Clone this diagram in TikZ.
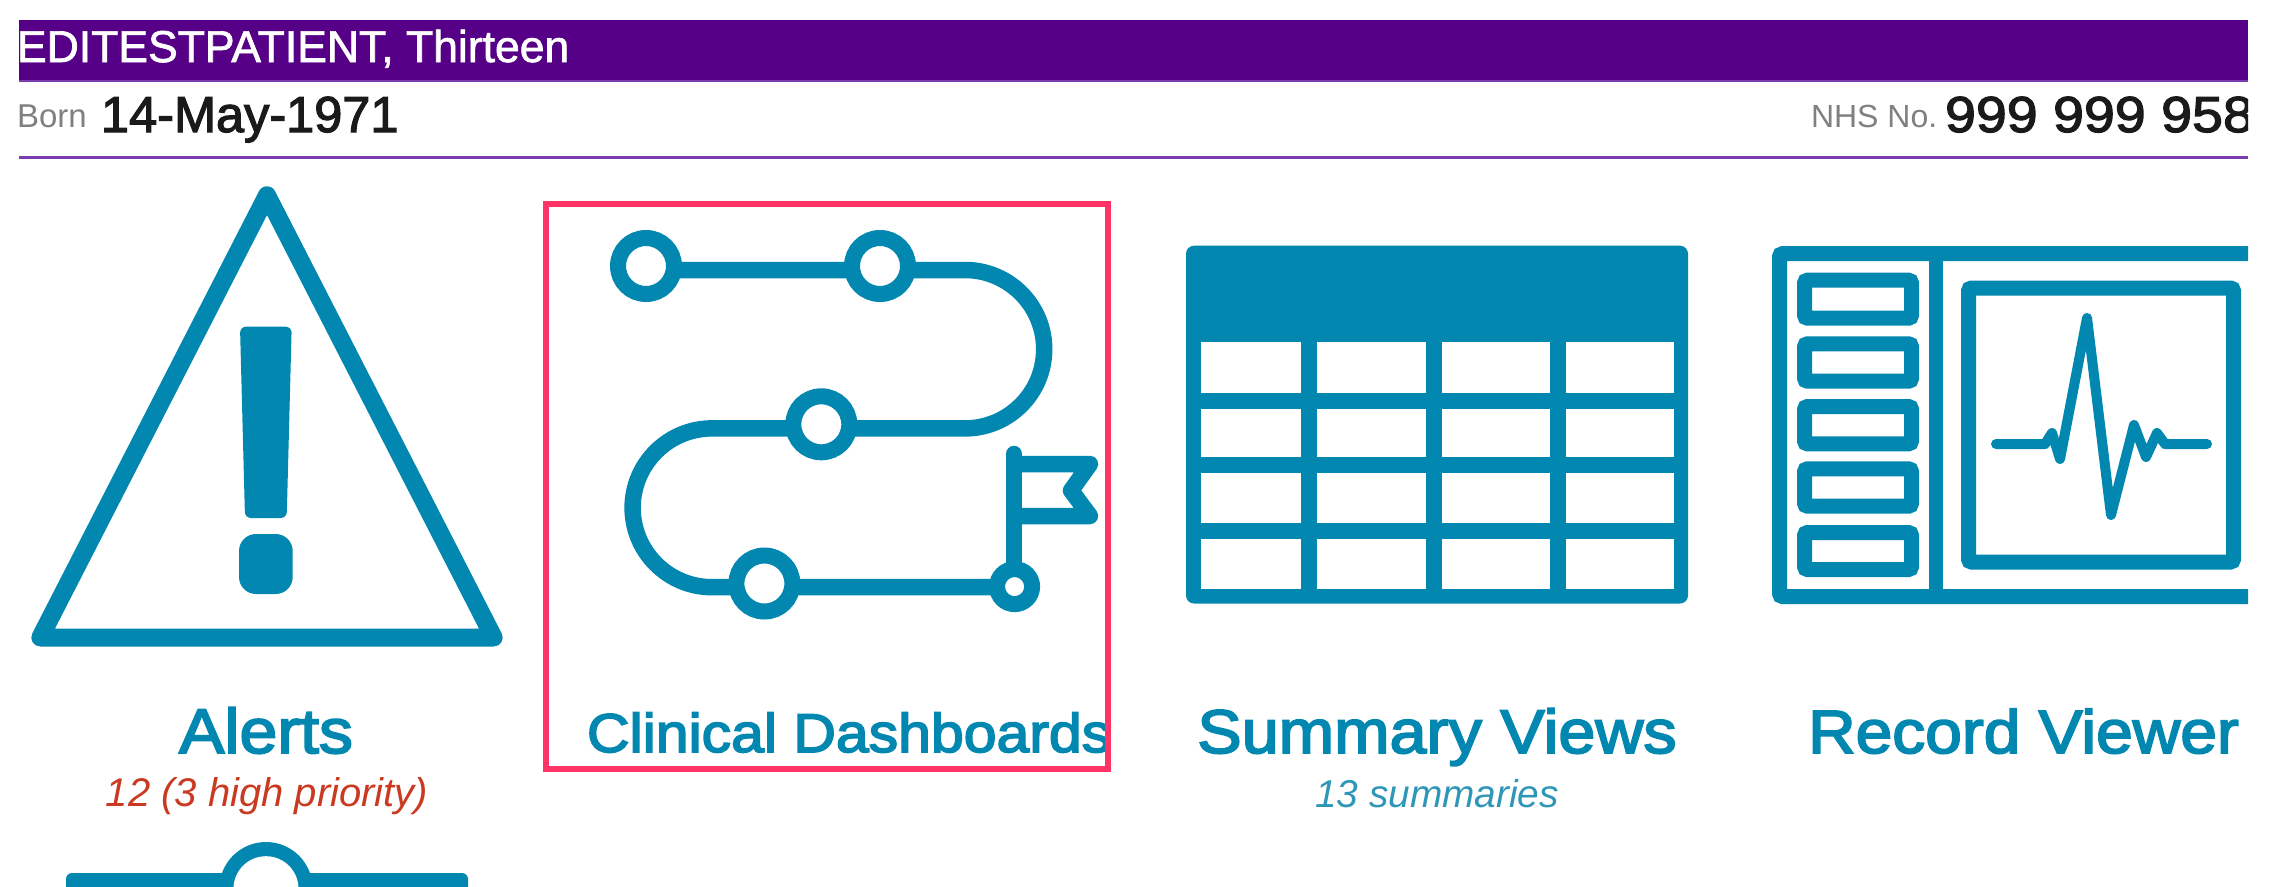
\documentclass[tikz,border=0pt]{standalone}
\usepackage{fontspec}
\setmainfont{Liberation Sans}
\newfontfamily\medf[FakeBold=3,FakeStretch=1.08]{Liberation Sans}
\newfontfamily\lightf[FakeBold=1.6]{Liberation Sans}
\newfontfamily\datef[FakeBold=2.4]{Liberation Sans}
\newfontfamily\numf[FakeBold=2.4,FakeStretch=1.1]{Liberation Sans}
\definecolor{teal}{HTML}{0288B0}
\definecolor{bar}{HTML}{550086}
\definecolor{rule}{HTML}{7A3DB0}
\definecolor{pinkbox}{HTML}{FF3366}
\definecolor{alertred}{HTML}{C93A20}
\definecolor{soft}{HTML}{2E97B8}
\definecolor{labelgrey}{HTML}{808080}
\definecolor{ink}{HTML}{1A1A1A}
\tikzset{
  tx/.style={inner sep=0pt,outer sep=0pt},
  txl/.style={tx,anchor=base west},
  txc/.style={tx,anchor=base},
  icon/.style={draw=teal,line width=16.5pt,line join=round},
  stop/.style={draw=teal,fill=white,line width=16pt,circle,inner sep=0pt},
  boxline/.style={draw=teal,line width=15pt,rounded corners=3pt},
  cell/.style={fill=white}
}
\newcommand{\fs}[1]{\fontsize{#1}{#1}\selectfont}
\begin{document}
\begin{tikzpicture}[x=1pt,y=-1pt]
\useasboundingbox (0,0) rectangle (2272,886);
\fill[white] (0,0) rectangle (2272,886);
\begin{scope}
\clip (19,0) rectangle (2248,886);
% header
\fill[bar] (19,20) rectangle (2248,80);
\fill[rule] (19,79.5) rectangle (2248,82);
\fill[rule] (19,155.5) rectangle (2248,159);
\node[txl,text=white] (name) at (17,62) {\fs{44.5}\lightf EDITESTPATIENT, Thirteen};
\node[txl,text=labelgrey] (born) at (17,127) {\fs{33}Born};
\node[txl,text=ink] (dob) at (101,132) {\fs{50.5}\datef 14-May-1971};
\node[txl,text=labelgrey] (nhs) at (1811,127) {\fs{32}NHS No.};
\node[txl,text=ink] (num) at (1945,132) {\fs{50.5}\numf 999 999 958};
% alerts
\draw[icon,line width=18pt] (267,195.3) -- (40.3,637.5) -- (493.7,637.5) -- cycle;
\fill[teal,rounded corners=6pt] (240,326.7) -- (291.7,326.7) -- (286.7,518) -- (245,518) -- cycle;
\fill[teal,rounded corners=17pt] (239,534) rectangle (292.7,594);
\node[txc,text=teal] (alerts) at (266,753) {\fs{63}\medf Alerts};
\node[txc,text=alertred] (alertsub) at (267,806) {\fs{40}\itshape 12 (3 high priority)};
% route
\draw[icon] (646,270) -- (965,270) arc[start angle=-90,end angle=90,radius=79.2] -- (712,428.4) arc[start angle=270,end angle=90,radius=79.4] -- (1014,587.2);
\draw[icon,line cap=round] (1014,454) -- (1014,570);
\draw[icon] (1014,464) -- (1090,464) -- (1071,490.5) -- (1090,516) -- (1014,516);
\node[stop,minimum size=56pt] (s1) at (646,266) {};
\node[stop,minimum size=56pt] (s2) at (880,266) {};
\node[stop,minimum size=56pt] (s3) at (821.3,424.3) {};
\node[stop,minimum size=56pt] (s4) at (764.4,583.5) {};
\node[stop,minimum size=35pt] (s5) at (1014.6,586.6) {};
\node[txl,text=teal] (clin) at (587,752) {\fs{54.6}\medf Clinical Dashboards};
% table
\fill[teal,rounded corners=8pt] (1186,245.7) rectangle (1688,603.5);
\foreach \xa/\xb in {1200.5/1301,1317.4/1425.8,1441.6/1550,1565.8/1674}
  \foreach \ya/\yb in {342/393,408.7/457.3,472.7/523,539/588.7}
    \fill[cell] (\xa,\ya) rectangle (\xb,\yb);
\node[txc,text=teal] (sum) at (1437,753) {\fs{61.6}\medf Summary Views};
\node[txc,text=soft] (sumsub) at (1437,807) {\fs{38.8}\itshape 13 summaries};
% record viewer
\draw[boxline] (1779.5,253.7) rectangle (2300,596.5);
\fill[teal] (1929,255) rectangle (1943.3,596);
\foreach \ya/\yb in {272.7/325.7,336.3/388.7,399/451.3,461.3/513.7,525/577}
  \draw[boxline] (1804.5,\ya+7.5) rectangle (1911.5,\yb-7.5);
\draw[boxline] (1968.5,288) rectangle (2233.5,562);
\draw[teal,line width=10pt,line cap=round,line join=round] (1996,444) -- (2045,444) -- (2052,433) -- (2060,459) -- (2087,318) -- (2111,515) -- (2134,425) -- (2146,457) -- (2157,433) -- (2165,444) -- (2207,444);
\node[txc,text=teal] (rec) at (2023.5,753) {\fs{61}\medf Record Viewer};
% bottom icon
\fill[teal,rounded corners=6pt] (66,873) rectangle (468,900);
\fill[teal] (266,888.7) circle[radius=46.7];
\fill[white] (266,888.7) circle[radius=32.5];
\end{scope}
% highlight box
\draw[pinkbox,line width=6pt] (546,204) rectangle (1108,769);
\end{tikzpicture}
\end{document}
